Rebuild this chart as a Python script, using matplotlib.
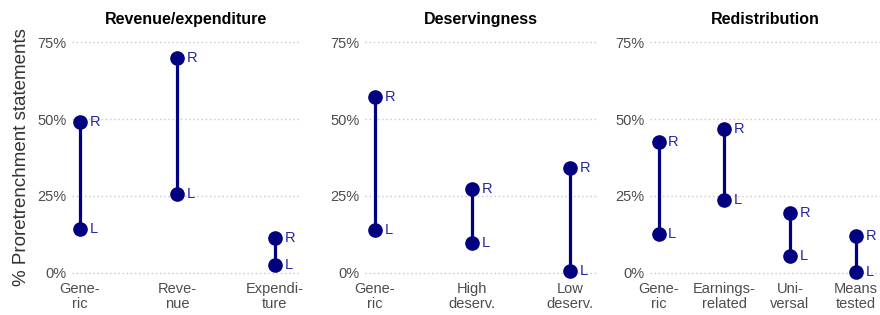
import numpy as np
import matplotlib.pyplot as plt

plt.rcParams['font.family'] = ['Liberation Sans', 'DejaVu Sans']

# values in %
titles = ['Revenue/expenditure', 'Deservingness', 'Redistribution']
cats_rev = ['Gene-\nric', 'Reve-\nnue', 'Expendi-\nture']
left_rev = [14.3, 25.6, 2.6]
right_rev = [49.0, 69.8, 11.4]

cats_des = ['Gene-\nric', 'High\ndeserv.', 'Low\ndeserv.']
left_des = [14.0, 9.7, 0.6]
right_des = [57.0, 27.3, 34.0]

cats_red = ['Gene-\nric', 'Earnings-\nrelated', 'Uni-\nversal', 'Means\ntested']
left_red = [12.7, 23.7, 5.5, 0.3]
right_red = [42.5, 46.8, 19.5, 12.0]

panels = [(cats_rev, left_rev, right_rev),
          (cats_des, left_des, right_des),
          (cats_red, left_red, right_red)]

# axes boxes in figure fractions
boxes = [(0.0818, 0.119, 0.259, 0.762),
         (0.4148, 0.119, 0.2636, 0.762),
         (0.7386, 0.119, 0.2614, 0.762)]
xlims = [(0.92, 3.26), (0.90, 3.28), (0.87, 4.37)]

dot_col = '#000080'
txt_col = '#2424a4'

fig = plt.figure(figsize=(8.8, 3.15), dpi=100)
for i, ((cats, lo, hi), box) in enumerate(zip(panels, boxes)):
    ax = fig.add_axes(box)
    x = np.arange(1, len(cats) + 1)
    ax.vlines(x, lo, hi, color=dot_col, lw=2.3, zorder=3)
    ax.plot(x, lo, 'o', color=dot_col, ms=9.5, zorder=4, clip_on=False)
    ax.plot(x, hi, 'o', color=dot_col, ms=9.5, zorder=4, clip_on=False)
    for xi, l, h in zip(x, lo, hi):
        ax.annotate('R', (xi, h), xytext=(7, 0), textcoords='offset points',
                    va='center', ha='left', color=txt_col, fontsize=10.5)
        ax.annotate('L', (xi, l), xytext=(7, 0), textcoords='offset points',
                    va='center', ha='left', color=txt_col, fontsize=10.5)
    ax.set_xlim(*xlims[i])
    ax.set_ylim(-1.5, 76.5)
    ax.set_yticks([0, 25, 50, 75])
    ax.set_yticklabels(['0%', '25%', '50%', '75%'])
    ax.set_xticks(x)
    ax.set_xticklabels(cats, linespacing=1.15)
    ax.grid(axis='y', color='#c8c8c8', ls=(0, (1, 2)), lw=1)
    ax.set_axisbelow(True)
    for s in ax.spines.values():
        s.set_visible(False)
    ax.tick_params(length=0, labelsize=10.5, colors='#4d4d4d', pad=4)
    ax.tick_params(axis='x', pad=3)
    ax.set_title(titles[i], fontsize=11.5, fontweight='bold', pad=10)
    if i == 0:
        ax.set_ylabel('% Proretrenchment statements', fontsize=13.5, color='#333333', labelpad=5)

fig.savefig('out.png', dpi=100)
